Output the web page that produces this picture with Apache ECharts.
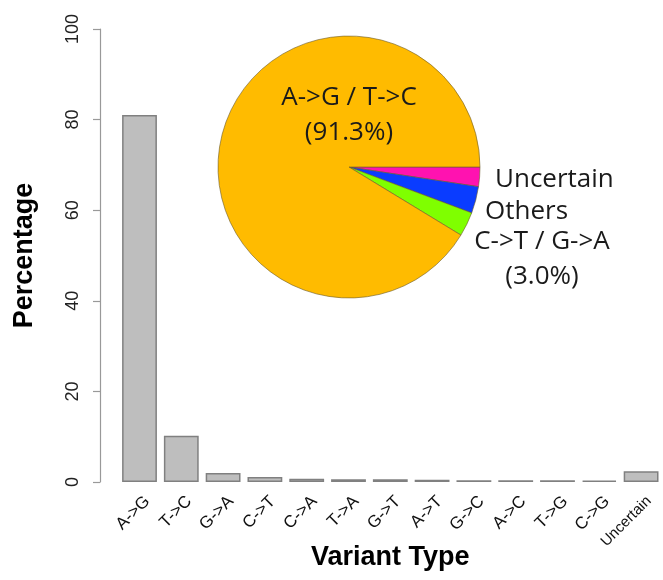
<!DOCTYPE html>
<html>
<head>
<meta charset="utf-8">
<script src="https://cdn.jsdelivr.net/npm/echarts@6/dist/echarts.min.js"></script>
<style>
  html, body { margin: 0; padding: 0; background: #fff; }
  #chart { width: 663px; height: 580px; }
</style>
</head>
<body>
<div id="chart"></div>
<script>
// Variant type frequencies (percent of all variants)
const variantTypes = ['A->G', 'T->C', 'G->A', 'C->T', 'C->A', 'T->A', 'G->T', 'A->T', 'G->C', 'A->C', 'T->G', 'C->G', 'Uncertain'];
const variantPercent = [81.0, 10.2, 2.0, 1.1, 0.7, 0.6, 0.6, 0.5, 0.4, 0.4, 0.4, 0.3, 2.4];

// Grouped summary for the inset pie
const groupNames = ['Uncertain', 'Others', 'C->T / G->A', 'A->G / T->C'];
const groupPercent = [2.4, 3.3, 3.0, 91.3];
const groupColors = ['#FF12B0', '#0A3CFF', '#7FFF00', '#FFBB00'];

const yTicks = { min: 0, max: 100, step: 20 };

const chart = echarts.init(document.getElementById('chart'), null, { renderer: 'canvas' });

const pieCenter = [349, 167];
const pieRadius = 131;

// label anchor points for the pie groups, relative to the pie centre
const pieLabelAnchor = [
  { dx: 146, dy: 13, align: 'left' },
  { dx: 136, dy: 45, align: 'left' },
  { dx: 193, dy: 92, align: 'center' },
  { dx: 0, dy: -52, align: 'center' }
];

chart.setOption({
  animation: false,
  backgroundColor: '#ffffff',
  grid: { left: 118.6, right: 1, top: 29, bottom: 98, containLabel: false, outerBoundsMode: 'none' },
  xAxis: {
    type: 'category',
    data: variantTypes,
    name: 'Variant Type',
    nameLocation: 'middle',
    nameGap: 62,
    nameMoveOverlap: false,
    nameTextStyle: { fontFamily: 'Liberation Sans', fontWeight: 'bold', fontSize: 27, color: '#000' },
    axisLine: { show: false },
    axisTick: { show: false },
    axisLabel: {
      interval: 0,
      rotate: 45,
      margin: 9,
      padding: [22, 0, 0, 0],
      fontFamily: 'Liberation Sans',
      fontSize: 17,
      color: '#111',
      formatter: v => v === 'Uncertain' ? '{s|' + v + '}' : v,
      rich: { s: { fontSize: 15, fontFamily: 'Liberation Sans', color: '#111' } }
    }
  },
  yAxis: {
    type: 'value',
    min: yTicks.min,
    max: yTicks.max,
    interval: yTicks.step,
    offset: 18.6,
    name: 'Percentage',
    nameLocation: 'middle',
    nameRotate: 90,
    nameGap: 62,
    nameTextStyle: { fontFamily: 'Liberation Sans', fontWeight: 'bold', fontSize: 27, color: '#000' },
    splitLine: { show: false },
    axisLine: { show: true, lineStyle: { color: '#999', width: 1.2 } },
    axisTick: { show: true, length: 7, lineStyle: { color: '#999', width: 1.2 } },
    axisLabel: {
      rotate: 90,
      margin: 18,
      fontFamily: 'Liberation Sans',
      fontSize: 18,
      color: '#222'
    }
  },
  series: [
    {
      type: 'bar',
      silent: true,
      data: variantPercent,
      barCategoryGap: '16.7%',
      itemStyle: { color: '#BEBEBE', borderColor: '#808080', borderWidth: 1.5 }
    },
    {
      type: 'pie',
      silent: true,
      center: pieCenter,
      radius: pieRadius,
      startAngle: 0,
      clockwise: true,
      avoidLabelOverlap: false,
      data: groupNames.map((n, i) => ({ name: n, value: groupPercent[i] })),
      color: groupColors,
      itemStyle: { borderColor: '#6b5a2a', borderWidth: 0.6 },
      label: {
        show: true,
        position: 'inside',
        fontFamily: 'Open Sans',
        fontSize: 26,
        lineHeight: 35,
        color: '#1a1a1a',
        formatter: p => (p.dataIndex >= 2) ? p.name + '\n(' + p.value.toFixed(1) + '%)' : p.name
      },
      labelLine: { show: false },
      labelLayout: params => {
        const a = pieLabelAnchor[params.dataIndex];
        return {
          x: pieCenter[0] + a.dx,
          y: pieCenter[1] + a.dy,
          align: a.align,
          verticalAlign: 'middle'
        };
      }
    }
  ]
});
</script>
</body>
</html>
